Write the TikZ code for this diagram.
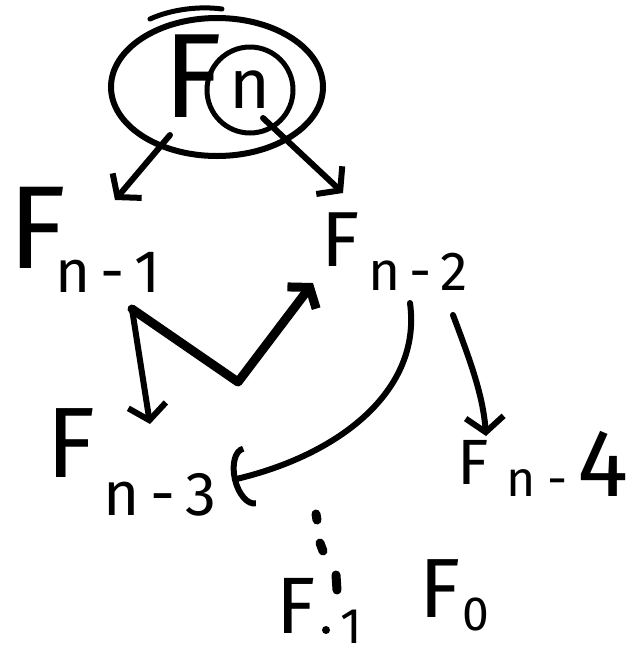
\documentclass[tikz,border=0pt]{standalone}
\usepackage{fontspec}
\setmainfont{Fira Sans}
\usetikzlibrary{arrows.meta,shapes.geometric}
\newcommand{\myfs}[1]{\fontsize{#1}{#1}\selectfont}
\begin{document}
\begin{tikzpicture}[x=1pt,y=-1pt,
  lbl/.style={inner sep=0pt, outer sep=0pt, text=black},
  stroke/.style={line width=6pt, line cap=round, line join=round},
  arr/.style={stroke, -{Straight Barb[length=15pt,width=38pt]}},
  dotmark/.style={line width=9pt, line cap=round}]
\useasboundingbox (0,0) rectangle (640,657);

% F_n with circled n inside a big ellipse
\node[draw, ellipse, line width=6pt, minimum width=212pt, minimum height=138pt, inner sep=0pt] (fn) at (217,87) {};
\draw[stroke, line width=5pt] (150,19) .. controls (172,9) and (200,6) .. (222,9);
\node[lbl, font=\myfs{120}] (fnF) at (193,76) {F};
\node[lbl, draw, circle, line width=5pt, minimum size=86pt, font=\myfs{70}] (fnn) at (250,90) {n};

% labels
\node[lbl, font=\myfs{118}] (fn1F) at (37,228) {F};
\node[lbl, font=\myfs{60}] (fn1s) at (108,272) {n\,-\,1};
\node[lbl, font=\myfs{78}] (fn2F) at (341,240) {F};
\node[lbl, font=\myfs{55}] (fn2s) at (418,272) {n\,-\,2};
\node[lbl, font=\myfs{100}] (fn3F) at (71,443) {F};
\node[lbl, font=\myfs{62}] (fn3s) at (160,495) {n\,-\,3};
\node[lbl, font=\myfs{64}] (fn4F) at (473,462) {F};
\node[lbl, anchor=base west] (fn4s) at (506,496) {\myfs{50}n\hspace{12pt}-\hspace{10pt}\myfs{96}4};
\node[lbl, font=\myfs{80}] (f1F) at (296,606) {F};
\node[lbl, font=\myfs{50}] (f1s) at (351,627) {1};
\node[lbl, font=\myfs{84}] (f0F) at (440,589) {F};
\node[lbl, font=\myfs{48}] (f0s) at (476,614) {0};

% vertical dots
\draw[dotmark] (316,514) -- (317,520);
\draw[dotmark] (320,543) -- (323,551);
\draw[dotmark] (336,575) -- (337,590);
\fill (326,630) circle (4);

% connector end points
\coordinate (a1s) at (170,135); \coordinate (a1e) at (115,200);
\coordinate (a2s) at (263,118); \coordinate (a2e) at (343,193);
\coordinate (vs) at (132,309);  \coordinate (vm) at (238,382); \coordinate (ve) at (313,283);
\coordinate (a3e) at (150,424);
\coordinate (a5s) at (410,303); \coordinate (a5e) at (232,480);
\coordinate (a6s) at (453,315); \coordinate (a6e) at (486,436);

\draw[arr] (a1s) -- (a1e);
\draw[arr] (a2s) -- (a2e);
\draw[arr] (vs) -- (a3e);
\draw[stroke, line width=9pt, -{Straight Barb[length=13pt,width=36pt]}] (vs) -- (vm) -- (ve);
\draw[stroke, -{Arc Barb[length=18pt,width=62pt]}] (a5s) .. controls (422,390) and (340,455) .. (a5e);
\draw[arr] (a6s) .. controls (470,360) and (483,395) .. (a6e);
\end{tikzpicture}
\end{document}
